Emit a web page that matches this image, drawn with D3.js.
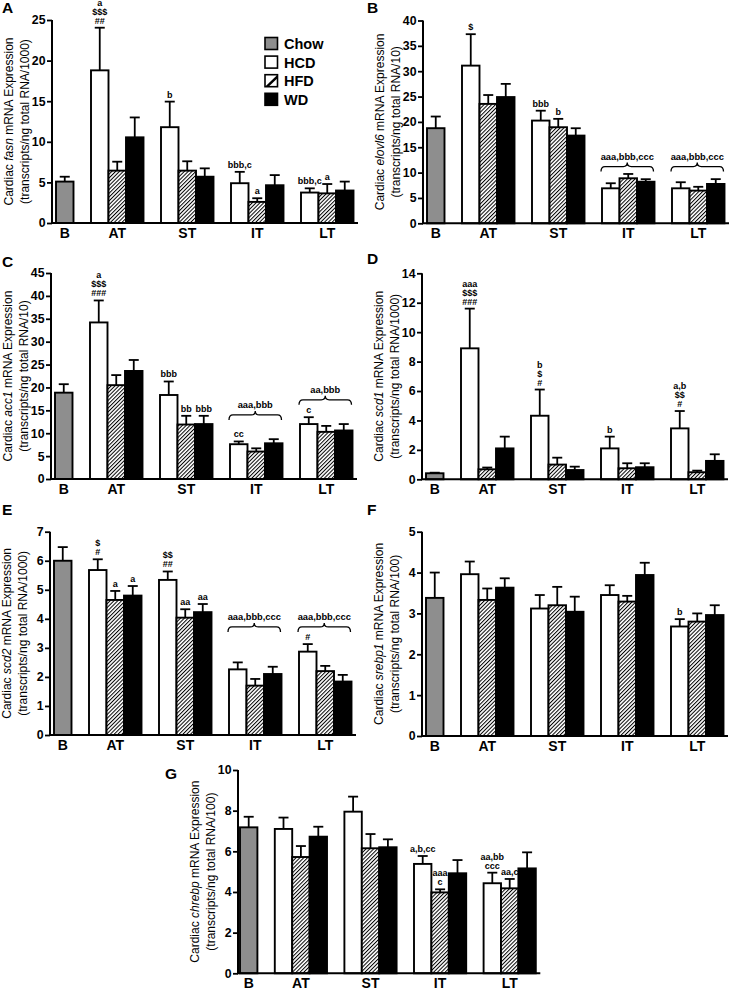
<!DOCTYPE html>
<html><head><meta charset="utf-8">
<script src="https://cdn.jsdelivr.net/npm/d3@7"></script>
<style>
body{margin:0;background:#fff}
svg{display:block}
text{font-family:"Liberation Sans",Arial,Helvetica,sans-serif;fill:#000}
</style>
</head><body>
<svg id="chart" width="731" height="993"></svg>
<script>
// ---------- data ----------
const groups = ["B","AT","ST","IT","LT"];
const seriesNames = ["Chow","HCD","HFD","WD"];
const barGroup  = ["B","AT","AT","AT","ST","ST","ST","IT","IT","IT","LT","LT","LT"];
const barSeries = ["Chow","HCD","HFD","WD","HCD","HFD","WD","HCD","HFD","WD","HCD","HFD","WD"];

// A: fasn
const fasnMean = [5.1, 18.8, 6.45, 10.55, 11.8, 6.45, 5.7, 4.9, 2.6, 4.65, 3.75, 3.65, 4.0];
const fasnSEM  = [0.6, 5.25, 1.1, 2.45, 3.15, 1.15, 1.03, 1.4, 0.45, 1.25, 0.52, 1.15, 1.1];
const fasnTicks = [0,5,10,15,20,25];
const fasnNotes = [[1,["a","$$$","##"]],[4,["b"]],[7,["bbb,c"]],[8,["a"]],[10,["bbb,c"]],[11,["a"]]];
const fasnBraces = [];

// B: elovl6
const elovl6Mean = [18.76, 31.1, 23.55, 24.9, 20.26, 18.95, 17.3, 6.9, 8.88, 8.2, 6.9, 6.45, 7.76];
const elovl6SEM  = [2.3, 6.2, 1.75, 2.6, 1.95, 1.65, 1.45, 1.0, 0.85, 0.5, 1.2, 0.75, 0.95];
const elovl6Ticks = [0,5,10,15,20,25,30,35,40];
const elovl6Notes = [[1,["$"]],[4,["bbb"]],[5,["b"]]];
const elovl6Braces = [["IT","aaa,bbb,ccc",10.2],["LT","aaa,bbb,ccc",10.2]];

// C: acc1
const acc1Mean = [18.86, 34.2, 20.5, 23.6, 18.35, 11.9, 12.0, 7.6, 6.0, 7.8, 12.0, 10.3, 10.6];
const acc1SEM  = [1.85, 4.8, 2.2, 2.4, 2.95, 1.9, 1.8, 0.6, 0.7, 0.9, 1.5, 1.3, 1.4];
const acc1Ticks = [0,5,10,15,20,25,30,35,40,45];
const acc1Notes = [[1,["a","$$$","###"]],[4,["bbb"]],[5,["bb"]],[6,["bbb"]],[7,["cc"]],[10,["c"]]];
const acc1Braces = [["IT","aaa,bbb",12.9],["LT","aa,bbb",16.2]];

// D: scd1
const scd1Mean = [0.41, 8.9, 0.68, 2.1, 4.32, 1.0, 0.63, 2.1, 0.75, 0.82, 3.46, 0.48, 1.25];
const scd1SEM  = [0.04, 2.7, 0.12, 0.8, 1.78, 0.47, 0.23, 0.8, 0.34, 0.27, 1.18, 0.11, 0.45];
const scd1Ticks = [0,2,4,6,8,10,12,14];
const scd1Notes = [[1,["aaa","$$$","###"]],[4,["b","$","#"]],[7,["b"]],[10,["a,b","$$","#"]]];
const scd1Braces = [];

// E: scd2
const scd2Mean = [6.0, 5.68, 4.65, 4.8, 5.34, 4.04, 4.23, 2.26, 1.7, 2.1, 2.87, 2.2, 1.84];
const scd2SEM  = [0.47, 0.37, 0.31, 0.33, 0.29, 0.29, 0.28, 0.24, 0.23, 0.25, 0.26, 0.18, 0.23];
const scd2Ticks = [0,1,2,3,4,5,6,7];
const scd2Notes = [[1,["$","#"]],[2,["a"]],[3,["a"]],[4,["$$","##"]],[5,["aa"]],[6,["aa"]],[10,["#"]]];
const scd2Braces = [["IT","aaa,bbb,ccc",3.55],["LT","aaa,bbb,ccc",3.55]];

// F: srebp1
const srebp1Mean = [3.38, 3.96, 3.33, 3.63, 3.12, 3.2, 3.04, 3.45, 3.29, 3.94, 2.68, 2.8, 2.96];
const srebp1SEM  = [0.62, 0.31, 0.28, 0.23, 0.33, 0.45, 0.37, 0.24, 0.14, 0.3, 0.18, 0.2, 0.24];
const srebp1Ticks = [0,1,2,3,4,5];
const srebp1Notes = [[10,["b"]]];
const srebp1Braces = [];

// G: chrebp
const chrebpMean = [7.18, 7.1, 5.72, 6.72, 7.95, 6.15, 6.2, 5.38, 3.98, 4.92, 4.43, 4.18, 5.16];
const chrebpSEM  = [0.52, 0.56, 0.54, 0.49, 0.74, 0.7, 0.39, 0.39, 0.15, 0.65, 0.52, 0.46, 0.79];
const chrebpTicks = [0,2,4,6,8,10];
const chrebpNotes = [[7,["a,b,cc"]],[8,["aaa","c"]],[10,["aa,bb","ccc"]],[11,["aa,c"]]];
const chrebpBraces = [];

// ---------- layout ----------
const panels = [
  {id:"A", gene:"fasn",   unit:"1000", mean:fasnMean,   sem:fasnSEM,   ticks:fasnTicks,   notes:fasnNotes,   braces:fasnBraces,   x0:52,  top:20,    bottom:223,   lx:2,   ly:13,  legend:true},
  {id:"B", gene:"elovl6", unit:"10",   mean:elovl6Mean, sem:elovl6SEM, ticks:elovl6Ticks, notes:elovl6Notes, braces:elovl6Braces, x0:423, top:20.5,  bottom:223.3, lx:367, ly:13},
  {id:"C", gene:"acc1",   unit:"10",   mean:acc1Mean,   sem:acc1SEM,   ticks:acc1Ticks,   notes:acc1Notes,   braces:acc1Braces,   x0:51,  top:273,   bottom:479,   lx:2,   ly:267},
  {id:"D", gene:"scd1",   unit:"1000", mean:scd1Mean,   sem:scd1SEM,   ticks:scd1Ticks,   notes:scd1Notes,   braces:scd1Braces,   x0:422, top:273.3, bottom:479.3, lx:367, ly:264},
  {id:"E", gene:"scd2",   unit:"1000", mean:scd2Mean,   sem:scd2SEM,   ticks:scd2Ticks,   notes:scd2Notes,   braces:scd2Braces,   x0:50,  top:531.7, bottom:735,   lx:2,   ly:515},
  {id:"F", gene:"srebp1", unit:"100",  mean:srebp1Mean, sem:srebp1SEM, ticks:srebp1Ticks, notes:srebp1Notes, braces:srebp1Braces, x0:422, top:531.7, bottom:736,   lx:367, ly:515},
  {id:"G", gene:"chrebp", unit:"100",  mean:chrebpMean, sem:chrebpSEM, ticks:chrebpTicks, notes:chrebpNotes, braces:chrebpBraces, x0:238, top:770,   bottom:973.3, lx:165, ly:779, sw:17.4, pad:2}
];

const fills = {Chow:"#8e8e8e", HCD:"#ffffff", HFD:"url(#hatch)", WD:"#000000"};

const svg = d3.select("#chart");
const defs = svg.append("defs");
const pat = defs.append("pattern").attr("id","hatch").attr("patternUnits","userSpaceOnUse")
  .attr("width",2.7).attr("height",2.7).attr("patternTransform","rotate(45)");
pat.append("rect").attr("width",2.7).attr("height",2.7).attr("fill","#fff");
pat.append("line").attr("x1",0.5).attr("y1",0).attr("x2",0.5).attr("y2",2.7)
  .attr("stroke","#000").attr("stroke-width",1);

// slots: B single bar, then groups of 3 with one empty slot between groups
const slots = [];
{
  let s = 0, prev = null;
  barGroup.forEach((g,i) => {
    if (prev !== null && g !== prev) s += 1;
    slots.push(s); s += 1; prev = g;
  });
}
const nSlots = slots[slots.length-1] + 1;

panels.forEach(p => {
  const sw = p.sw || 17.5, pad = p.pad || 4;
  const g = svg.append("g");
  const x = d3.scaleLinear().domain([0, nSlots]).range([p.x0 + pad, p.x0 + pad + nSlots*sw]);
  const xEnd = p.x0 + pad + nSlots*sw + 4.5;
  const yMax = p.ticks[p.ticks.length-1];
  const y = d3.scaleLinear().domain([0, yMax]).range([p.bottom, p.top]);

  const bars = p.mean.map((m,i) => ({m, s:p.sem[i], slot:slots[i], ser:barSeries[i], grp:barGroup[i], i}));

  // error bars
  bars.forEach(b => {
    const cx = x(b.slot) + sw/2;
    g.append("line").attr("x1",cx).attr("x2",cx).attr("y1",y(b.m)).attr("y2",y(b.m+b.s))
      .attr("stroke","#000").attr("stroke-width",1.8);
    g.append("line").attr("x1",cx-5).attr("x2",cx+5).attr("y1",y(b.m+b.s)).attr("y2",y(b.m+b.s))
      .attr("stroke","#000").attr("stroke-width",1.8);
  });
  // bars
  g.selectAll("rect.bar").data(bars).enter().append("rect").attr("class","bar")
    .attr("x", d => x(d.slot)).attr("width", sw)
    .attr("y", d => y(d.m)).attr("height", d => y(0) - y(d.m))
    .attr("fill", d => fills[d.ser]).attr("stroke","#000").attr("stroke-width",1.9);

  // axes
  const yAxis = d3.axisLeft(y).tickValues(p.ticks).tickSize(5).tickPadding(1.5).tickFormat(d3.format("d"));
  const ya = g.append("g").attr("transform",`translate(${p.x0},0)`).call(yAxis);
  ya.select(".domain").attr("stroke-width",2).attr("d",`M0,${p.bottom}V${p.top}`);
  ya.selectAll(".tick line").attr("stroke-width",1.8);
  ya.selectAll(".tick text").attr("font-size",12.3).attr("font-weight","bold")
    .attr("font-family","'Liberation Sans',Arial,sans-serif").attr("fill","#000");
  g.append("line").attr("x1",p.x0-1).attr("x2",xEnd).attr("y1",p.bottom).attr("y2",p.bottom)
    .attr("stroke","#000").attr("stroke-width",2);

  // category labels
  groups.forEach(gr => {
    const idx = barGroup.map((v,i)=>v===gr?i:-1).filter(v=>v>=0);
    const cx = (x(slots[idx[0]]) + x(slots[idx[idx.length-1]]) + sw)/2;
    g.append("text").attr("x",cx).attr("y",p.bottom+15).attr("text-anchor","middle")
      .attr("font-size",14).attr("font-weight","bold").text(gr);
  });

  // y title
  const yc = (p.top + p.bottom)/2;
  const t1 = g.append("text").attr("transform",`translate(${p.x0-39},${yc}) rotate(-90)`)
    .attr("text-anchor","middle").attr("font-size",12);
  t1.append("tspan").text("Cardiac ");
  t1.append("tspan").attr("font-style","italic").text(p.gene);
  t1.append("tspan").text(" mRNA Expression");
  g.append("text").attr("transform",`translate(${p.x0-23},${yc}) rotate(-90)`)
    .attr("text-anchor","middle").attr("font-size",12)
    .text(`(transcripts/ng total RNA/${p.unit})`);

  // panel letter
  g.append("text").attr("x",p.lx).attr("y",p.ly).attr("font-size",15.5).attr("font-weight","bold").text(p.id);

  // annotations
  p.notes.forEach(([bi, lines]) => {
    const b = bars[bi];
    const cx = x(b.slot) + sw/2;
    const base = y(b.m + b.s) - 4;
    lines.forEach((ln, k) => {
      g.append("text").attr("x",cx).attr("y", base - (lines.length-1-k)*9)
        .attr("text-anchor","middle").attr("font-size",9).attr("font-weight","bold").text(ln);
    });
  });

  // braces
  p.braces.forEach(([gr, label, lvl]) => {
    const idx = barGroup.map((v,i)=>v===gr?i:-1).filter(v=>v>=0);
    const xl = x(slots[idx[0]]) - 1, xr = x(slots[idx[idx.length-1]]) + sw - 1;
    const xm = (xl + xr)/2, yb = y(lvl), h = 9, r = 4;
    const ymid = yb - h/2 - 0.5;
    const path = `M${xl},${yb} Q${xl},${ymid} ${xl+r},${ymid} L${xm-r},${ymid} Q${xm},${ymid} ${xm},${yb-h} Q${xm},${ymid} ${xm+r},${ymid} L${xr-r},${ymid} Q${xr},${ymid} ${xr},${yb}`;
    g.append("path").attr("d",path).attr("fill","none").attr("stroke","#000").attr("stroke-width",1.3);
    g.append("text").attr("x",xm).attr("y",yb-h-3).attr("text-anchor","middle")
      .attr("font-size",9.3).attr("font-weight","bold").text(label);
  });

  // legend
  if (p.legend) {
    const lg = g.append("g").attr("transform","translate(265,37.5)");
    seriesNames.forEach((s,k) => {
      const row = lg.append("g").attr("transform",`translate(0,${k*18.6})`);
      if (s === "HFD") {
        row.append("rect").attr("width",12.5).attr("height",12).attr("fill","#fff");
        row.append("path").attr("d","M0,12 L12.5,0 L12.5,3.5 L3.5,12 Z").attr("fill","#000");
        row.append("rect").attr("width",12.5).attr("height",12).attr("fill","none").attr("stroke","#000").attr("stroke-width",1.6);
      } else {
        row.append("rect").attr("width",12.5).attr("height",12).attr("fill",fills[s]).attr("stroke","#000").attr("stroke-width",1.6);
      }
      row.append("text").attr("x",19).attr("y",11.5).attr("font-size",14.5).attr("font-weight","bold").text(s);
    });
  }
});
</script>
</body></html>
